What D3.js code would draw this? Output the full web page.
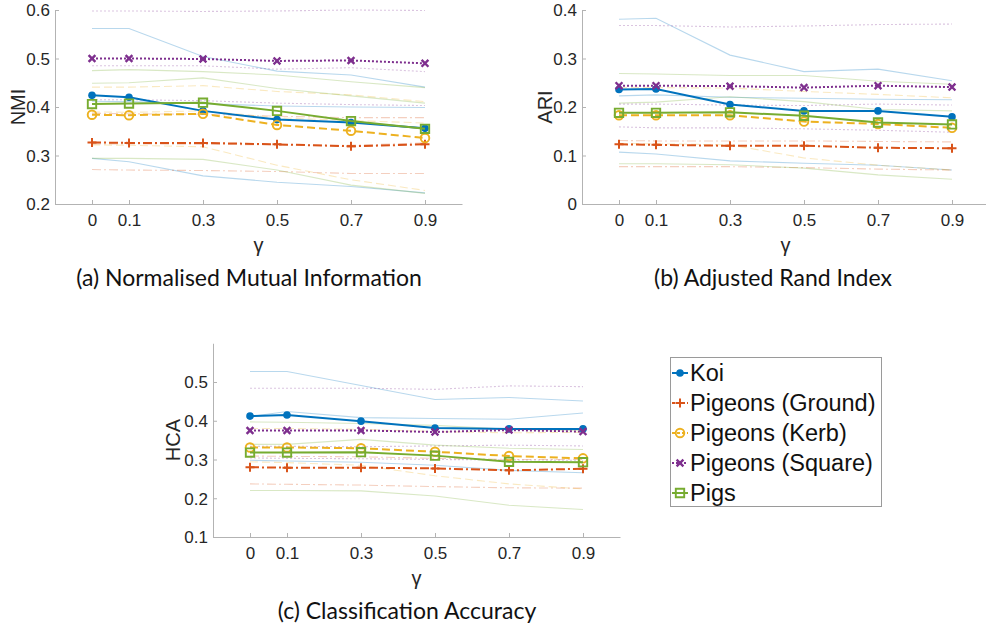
<!DOCTYPE html>
<html>
<head>
<meta charset="utf-8">
<script src="https://cdn.jsdelivr.net/npm/d3@7"></script>
<style>
  body { margin: 0; background: #fff; }
  svg { display: block; }
  .tick-label { font-family: "Liberation Sans", Arial, sans-serif; font-size: 17px; fill: #262626; }
  .axis-title { font-family: "Liberation Sans", Arial, sans-serif; font-size: 20px; fill: #262626; }
  .caption { font-family: Lato, "Open Sans", sans-serif; font-size: 23px; fill: #111; }
  .legend-text { font-family: "Liberation Sans", Arial, sans-serif; font-size: 23.5px; fill: #111; }
</style>
</head>
<body>
<svg id="chart" width="986" height="627"></svg>
<script>
// DATA
const gammas = [0, 0.1, 0.3, 0.5, 0.7, 0.9];
const gammaTicks = ["0", "0.1", "0.3", "0.5", "0.7", "0.9"];
const seriesNames = ["Koi", "Pigeons (Ground)", "Pigeons (Kerb)", "Pigeons (Square)", "Pigs"];

// main lines, one row per series (same order as seriesNames)
const nmiMean = [
  [0.424, 0.420, 0.392, 0.374, 0.368, 0.356],
  [0.327, 0.326, 0.326, 0.323, 0.319, 0.323],
  [0.384, 0.383, 0.386, 0.363, 0.351, 0.336],
  [0.500, 0.500, 0.499, 0.495, 0.496, 0.490],
  [0.406, 0.407, 0.409, 0.392, 0.371, 0.355]
];
const ariMean = [
  [0.236, 0.237, 0.205, 0.192, 0.192, 0.180],
  [0.123, 0.122, 0.120, 0.120, 0.116, 0.115],
  [0.183, 0.183, 0.183, 0.170, 0.165, 0.157],
  [0.244, 0.244, 0.243, 0.240, 0.244, 0.241],
  [0.188, 0.188, 0.189, 0.182, 0.168, 0.164]
];
const hcaMean = [
  [0.412, 0.415, 0.399, 0.381, 0.379, 0.379],
  [0.280, 0.279, 0.279, 0.277, 0.272, 0.276],
  [0.331, 0.331, 0.329, 0.320, 0.309, 0.303],
  [0.375, 0.375, 0.375, 0.371, 0.376, 0.372],
  [0.318, 0.318, 0.319, 0.310, 0.294, 0.293]
];

// faint lines, several per series
const nmiFaint = [
  [[0.562, 0.562, 0.504, 0.474, 0.466, 0.441], [0.412, 0.411, 0.407, 0.402, 0.400, 0.399], [0.294, 0.287, 0.258, 0.245, 0.236, 0.223]],
  [[0.387, 0.386, 0.385, 0.381, 0.378, 0.378], [0.324, 0.324, 0.323, 0.322, 0.321, 0.326], [0.271, 0.270, 0.269, 0.267, 0.263, 0.263]],
  [[0.441, 0.441, 0.444, 0.432, 0.425, 0.411], [0.390, 0.389, 0.392, 0.378, 0.372, 0.367], [0.322, 0.321, 0.318, 0.280, 0.250, 0.228]],
  [[0.598, 0.598, 0.597, 0.598, 0.600, 0.599], [0.485, 0.485, 0.485, 0.478, 0.481, 0.473], [0.415, 0.415, 0.413, 0.408, 0.405, 0.403]],
  [[0.475, 0.477, 0.473, 0.466, 0.452, 0.440], [0.449, 0.450, 0.460, 0.438, 0.423, 0.408], [0.294, 0.294, 0.292, 0.270, 0.239, 0.222]]
];
const ariFaint = [
  [[0.381, 0.383, 0.307, 0.273, 0.278, 0.254], [0.223, 0.225, 0.220, 0.218, 0.216, 0.215], [0.107, 0.103, 0.089, 0.084, 0.080, 0.070]],
  [[0.131, 0.130, 0.130, 0.130, 0.129, 0.128], [0.077, 0.077, 0.077, 0.075, 0.072, 0.070]],
  [[0.240, 0.240, 0.239, 0.232, 0.226, 0.219], [0.125, 0.124, 0.122, 0.095, 0.080, 0.070]],
  [[0.368, 0.368, 0.365, 0.367, 0.370, 0.371], [0.206, 0.206, 0.204, 0.203, 0.206, 0.204], [0.159, 0.157, 0.157, 0.155, 0.152, 0.148]],
  [[0.269, 0.268, 0.265, 0.265, 0.253, 0.247], [0.208, 0.210, 0.221, 0.211, 0.195, 0.192], [0.083, 0.083, 0.081, 0.074, 0.060, 0.051]]
];
const hcaFaint = [
  [[0.527, 0.527, 0.491, 0.455, 0.460, 0.451], [0.411, 0.424, 0.408, 0.406, 0.404, 0.420], [0.298, 0.296, 0.293, 0.285, 0.272, 0.266]],
  [[0.309, 0.308, 0.307, 0.303, 0.300, 0.300], [0.237, 0.236, 0.234, 0.230, 0.227, 0.226]],
  [[0.380, 0.380, 0.378, 0.372, 0.369, 0.370], [0.294, 0.292, 0.285, 0.258, 0.237, 0.224]],
  [[0.484, 0.484, 0.484, 0.481, 0.490, 0.488], [0.334, 0.334, 0.333, 0.335, 0.337, 0.335], [0.304, 0.303, 0.302, 0.300, 0.299, 0.298]],
  [[0.397, 0.396, 0.393, 0.388, 0.378, 0.375], [0.339, 0.339, 0.352, 0.337, 0.329, 0.326], [0.220, 0.220, 0.219, 0.206, 0.182, 0.171]]
];

const nmiTicks = [0.2, 0.3, 0.4, 0.5, 0.6];
const ariTicks = [0, 0.1, 0.2, 0.3, 0.4];
const hcaTicks = [0.1, 0.2, 0.3, 0.4, 0.5];

// STYLE
const colors = ["#0072BD", "#D95319", "#EDB120", "#7E2F8E", "#77AC30"];
const dashes = [null, "9,3,2,3", "8,4", "2,2", null];
const markers = ["dot", "plus", "ring", "cross", "square"];

const svg = d3.select("#chart");

function markerPath(type, s) {
  if (type === "plus") return `M${-s},0H${s}M0,${-s}V${s}`;
  if (type === "cross") return `M${-s},${-s}L${s},${s}M${-s},${s}L${s},${-s}`;
  if (type === "square") return `M${-s},${-s}H${s}V${s}H${-s}Z`;
  return d3.symbol(d3.symbolCircle, Math.PI * s * s)();
}

function drawMarker(g, type, color, x, y) {
  const m = g.append("path").attr("transform", `translate(${x},${y})`);
  if (type === "dot") m.attr("d", markerPath("dot", 3.8)).attr("fill", color);
  else if (type === "ring") m.attr("d", markerPath("ring", 4.3)).attr("fill", "none").attr("stroke", color).attr("stroke-width", 1.9);
  else if (type === "plus") m.attr("d", markerPath("plus", 4.5)).attr("fill", "none").attr("stroke", color).attr("stroke-width", 2);
  else if (type === "cross") m.attr("d", markerPath("cross", 3.4)).attr("fill", "none").attr("stroke", color).attr("stroke-width", 2.4);
  else m.attr("d", markerPath("square", 4.2)).attr("fill", "none").attr("stroke", color).attr("stroke-width", 1.9);
}

function drawPanel(p) {
  const x = d3.scaleLinear().domain([-0.1, 1.0]).range(p.xRange);
  const y = d3.scaleLinear().domain(p.yDomain).range(p.yRange);
  const g = svg.append("g");

  const line = d3.line().x((d, i) => x(gammas[i])).y(d => y(d));

  // faint lines
  p.faint.forEach((set, s) => {
    set.forEach(vals => {
      g.append("path")
        .attr("d", line(vals))
        .attr("fill", "none")
        .attr("stroke", colors[s])
        .attr("stroke-opacity", 0.28)
        .attr("stroke-width", 1.1)
        .attr("stroke-dasharray", dashes[s]);
    });
  });

  // main lines
  p.mean.forEach((vals, s) => {
    g.append("path")
      .attr("d", line(vals))
      .attr("fill", "none")
      .attr("stroke", colors[s])
      .attr("stroke-width", 2)
      .attr("stroke-dasharray", dashes[s]);
    vals.forEach((v, i) => drawMarker(g, markers[s], colors[s], x(gammas[i]), y(v)));
  });

  // axes
  const xAxis = g.append("g")
    .attr("transform", `translate(0,${p.yRange[0]})`)
    .call(d3.axisBottom(x).tickValues(gammas).tickFormat((d, i) => gammaTicks[i]).tickSizeInner(-4).tickSizeOuter(0));
  const yAxis = g.append("g")
    .attr("transform", `translate(${p.xRange[0]},0)`)
    .call(d3.axisLeft(y).tickValues(p.ticks).tickFormat(d => d === 0 ? "0" : d3.format(".1f")(d)).tickSizeInner(-4).tickSizeOuter(0).tickPadding(5));
  [xAxis, yAxis].forEach(a => {
    a.attr("font-family", null).attr("font-size", null);
    a.select(".domain").attr("stroke", "#b3b3b3").attr("stroke-width", 1);
    a.selectAll(".tick line").attr("stroke", "#b3b3b3");
    a.selectAll(".tick text").attr("class", "tick-label").attr("fill", null);
  });
  xAxis.selectAll(".tick text").attr("y", 16).attr("dy", "0.35em");
  yAxis.selectAll(".tick text").attr("dy", "0.35em");

  const midX = (p.xRange[0] + p.xRange[1]) / 2;
  g.append("text").attr("class", "axis-title")
    .attr("x", midX).attr("y", p.yRange[0] + 41)
    .attr("dy", "0.35em").attr("text-anchor", "middle").text("γ");
  g.append("text").attr("class", "axis-title")
    .attr("transform", `translate(${p.yLabelX},${(p.yRange[0] + p.yRange[1]) / 2}) rotate(-90)`)
    .attr("dy", "0.35em").attr("text-anchor", "middle").text(p.yLabel);
  g.append("text").attr("class", "caption")
    .attr("x", p.capX).attr("y", p.capY)
    .attr("dy", "0.35em").attr("text-anchor", "middle").text(p.caption);
}

drawPanel({ mean: nmiMean, faint: nmiFaint, ticks: nmiTicks, yDomain: [0.2, 0.6],
  xRange: [55, 462], yRange: [204, 10], yLabel: "NMI", yLabelX: 18,
  caption: "(a) Normalised Mutual Information", capX: 249, capY: 278 });
drawPanel({ mean: ariMean, faint: ariFaint, ticks: ariTicks, yDomain: [0, 0.4],
  xRange: [582, 989], yRange: [204, 10], yLabel: "ARI", yLabelX: 545,
  caption: "(b) Adjusted Rand Index", capX: 773, capY: 278 });
drawPanel({ mean: hcaMean, faint: hcaFaint, ticks: hcaTicks, yDomain: [0.1, 0.6],
  xRange: [213, 620], yRange: [537, 343.25], yLabel: "HCA", yLabelX: 173,
  caption: "(c) Classification Accuracy", capX: 407, capY: 611 });

// LEGEND
const leg = svg.append("g");
leg.append("rect").attr("x", 670.5).attr("y", 357.5).attr("width", 211).attr("height", 149)
  .attr("fill", "#fff").attr("stroke", "#9a9a9a").attr("stroke-width", 1);
seriesNames.forEach((name, s) => {
  const ly = 373 + s * 30;
  leg.append("line").attr("x1", 672).attr("x2", 688).attr("y1", ly).attr("y2", ly)
    .attr("stroke", colors[s]).attr("stroke-width", 2).attr("stroke-dasharray", dashes[s] ? (s === 3 ? "2,2" : "3,2") : null);
  drawMarker(leg, markers[s], colors[s], 680, ly);
  leg.append("text").attr("class", "legend-text").attr("x", 690).attr("y", ly).attr("dy", "0.35em").text(name);
});
</script>
</body>
</html>
